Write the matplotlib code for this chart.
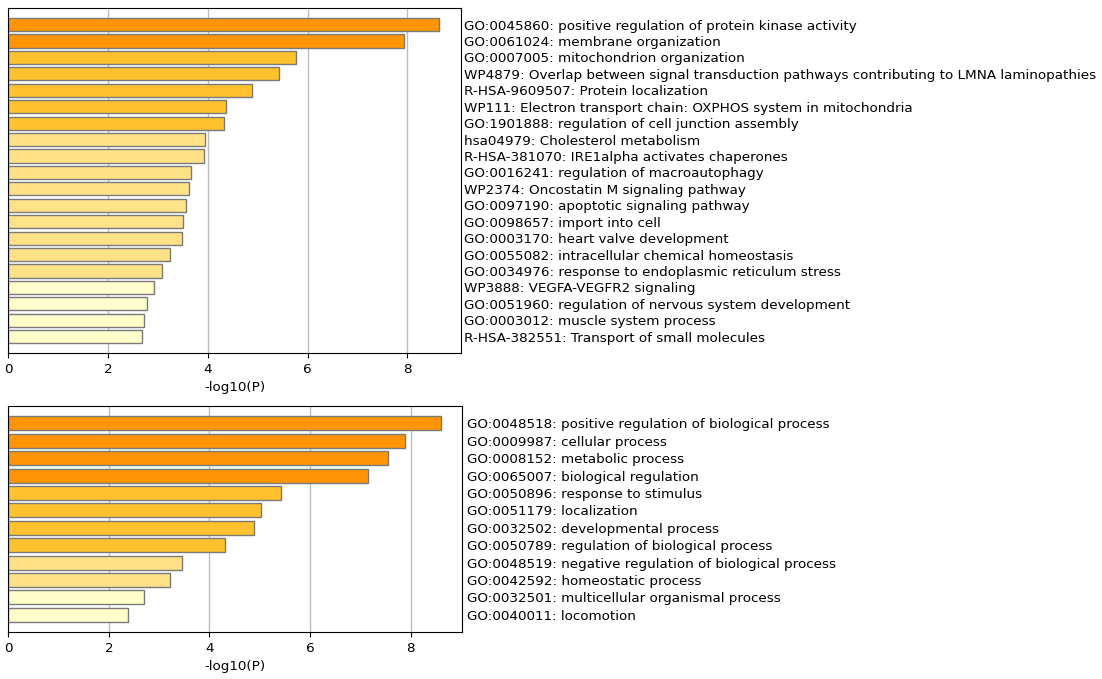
import matplotlib
matplotlib.use("Agg")
import matplotlib.pyplot as plt

# top panel: enriched terms
top_terms = [
    "GO:0045860: positive regulation of protein kinase activity",
    "GO:0061024: membrane organization",
    "GO:0007005: mitochondrion organization",
    "WP4879: Overlap between signal transduction pathways contributing to LMNA laminopathies",
    "R-HSA-9609507: Protein localization",
    "WP111: Electron transport chain: OXPHOS system in mitochondria",
    "GO:1901888: regulation of cell junction assembly",
    "hsa04979: Cholesterol metabolism",
    "R-HSA-381070: IRE1alpha activates chaperones",
    "GO:0016241: regulation of macroautophagy",
    "WP2374: Oncostatin M signaling pathway",
    "GO:0097190: apoptotic signaling pathway",
    "GO:0098657: import into cell",
    "GO:0003170: heart valve development",
    "GO:0055082: intracellular chemical homeostasis",
    "GO:0034976: response to endoplasmic reticulum stress",
    "WP3888: VEGFA-VEGFR2 signaling",
    "GO:0051960: regulation of nervous system development",
    "GO:0003012: muscle system process",
    "R-HSA-382551: Transport of small molecules",
]
top_vals = [8.64, 7.93, 5.77, 5.42, 4.88, 4.37, 4.33, 3.94, 3.92, 3.67,
            3.63, 3.57, 3.51, 3.48, 3.24, 3.08, 2.93, 2.79, 2.72, 2.68]

# bottom panel: parent GO terms
bot_terms = [
    "GO:0048518: positive regulation of biological process",
    "GO:0009987: cellular process",
    "GO:0008152: metabolic process",
    "GO:0065007: biological regulation",
    "GO:0050896: response to stimulus",
    "GO:0051179: localization",
    "GO:0032502: developmental process",
    "GO:0050789: regulation of biological process",
    "GO:0048519: negative regulation of biological process",
    "GO:0042592: homeostatic process",
    "GO:0032501: multicellular organismal process",
    "GO:0040011: locomotion",
]
bot_vals = [8.60, 7.90, 7.55, 7.16, 5.42, 5.03, 4.89, 4.31, 3.45, 3.22, 2.70, 2.39]


def bar_color(v):
    # colour bins by -log10(P)
    if v >= 6:
        return "#FF9505"
    if v >= 4:
        return "#FFC12E"
    if v >= 3:
        return "#FFE287"
    return "#FFFFCC"


def draw_panel(ax, terms, vals, pad):
    n = len(terms)
    y = list(range(n))
    ax.barh(y, vals, height=0.8, color=[bar_color(v) for v in vals],
            edgecolor="#7a7a7a", linewidth=1)
    ax.set_ylim(n, -1)
    ax.set_xlim(0, max(vals) * 1.05)
    ax.set_xticks([0, 2, 4, 6, 8])
    ax.set_axisbelow(True)
    ax.grid(axis="x", color="#bdbdbd", linewidth=1)
    ax.yaxis.tick_right()
    ax.set_yticks(y)
    ax.set_yticklabels(terms, fontsize=9.7)
    ax.tick_params(axis="y", length=0, pad=pad)
    ax.tick_params(axis="x", labelsize=9.7)
    ax.set_xlabel("-log10(P)", fontsize=9.7)


fig = plt.figure(figsize=(11.02, 6.79), dpi=100)
ax1 = fig.add_axes([0.0073, 0.480, 0.411, 0.508])
ax2 = fig.add_axes([0.0075, 0.069, 0.412, 0.333])

draw_panel(ax1, top_terms, top_vals, 2)
draw_panel(ax2, bot_terms, bot_vals, 3.5)

fig.savefig("out.png", dpi=100)
